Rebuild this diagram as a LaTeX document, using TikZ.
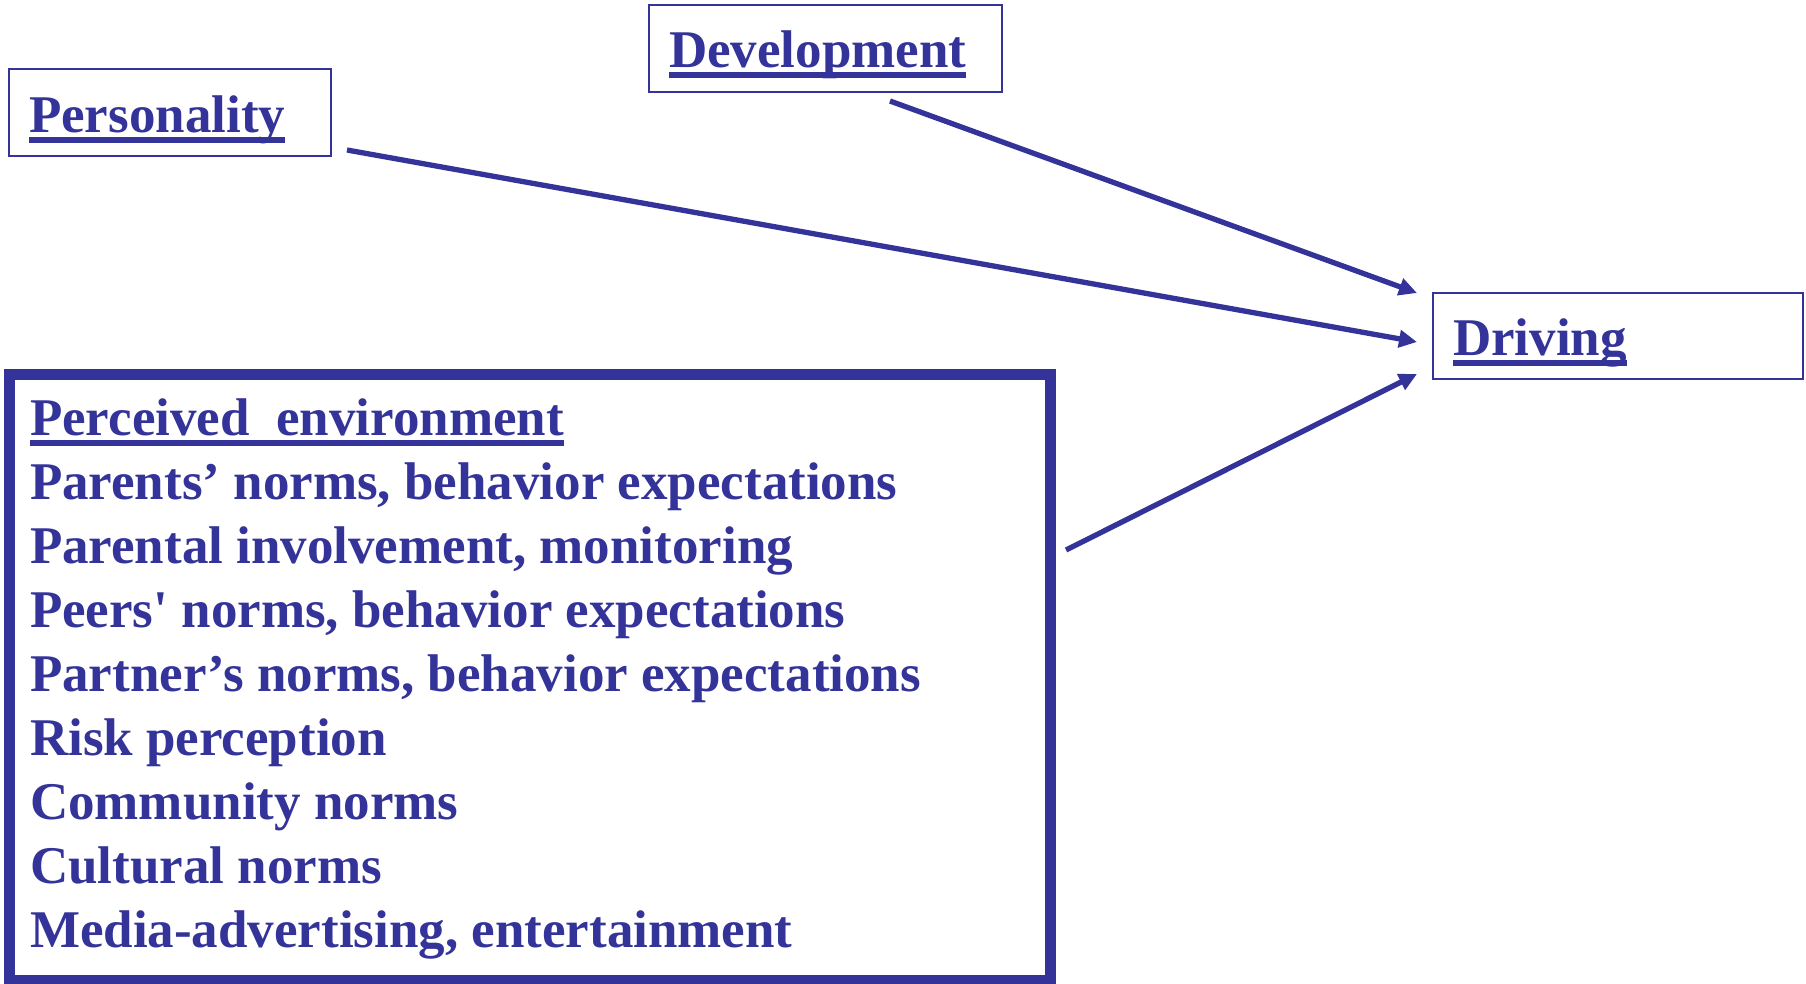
\documentclass[tikz,border=0pt]{standalone}
\usepackage{fontspec}
\setmainfont{Liberation Serif}[Ligatures=TeXOff]
\usetikzlibrary{arrows.meta}
\definecolor{ppblue}{RGB}{51,51,153}
\newsavebox{\ulbx}
\newcommand{\ulx}[1]{\sbox{\ulbx}{#1}\rlap{\rule[-10.5bp]{\wd\ulbx}{6bp}}\usebox{\ulbx}}
\begin{document}
\begin{tikzpicture}[x=1bp,y=-1bp,
  thinbox/.style={draw=ppblue,line width=2.5bp,inner sep=0pt,outer sep=0pt,rectangle},
  bigbox/.style={draw=ppblue,line width=11bp,inner sep=0pt,outer sep=0pt,rectangle},
  lbl/.style={text=ppblue,font=\fontsize{53bp}{64bp}\selectfont\bfseries,inner sep=0pt,outer sep=0pt,anchor=base west},
  arr/.style={draw=ppblue,line width=5.3bp,-{Triangle[length=18bp,width=17bp]}}]
\useasboundingbox (0,0) rectangle (1806,983);
% boxes
\node[thinbox,minimum width=322bp,minimum height=87bp] (pbox) at (170,112.5) {};
\node[thinbox,minimum width=353bp,minimum height=87bp] (dbox) at (825.5,48.5) {};
\node[thinbox,minimum width=370bp,minimum height=86bp] (vbox) at (1618,336) {};
\node[bigbox,minimum width=1040bp,minimum height=606bp] (env) at (530,677) {};
% titles
\node[lbl] (ptxt) at (29,132) {\ulx{Personality}};
\node[lbl] (dtxt) at (669,67) {\ulx{Development}};
\node[lbl] (vtxt) at (1453,355) {\ulx{Driving}};
\node[lbl] (l1) at (30,435) {\ulx{Perceived\ \ environment}};
\node[lbl] (l2) at (30,499) {Parents’ norms, behavior expectations};
\node[lbl] (l3) at (30,563) {Parental involvement, monitoring};
\node[lbl] (l4) at (30,627) {Peers' norms, behavior expectations};
\node[lbl] (l5) at (30,691) {Partner’s norms, behavior expectations};
\node[lbl] (l6) at (30,755) {Risk perception};
\node[lbl] (l7) at (30,819) {Community norms};
\node[lbl] (l8) at (30,883) {Cultural norms};
\node[lbl] (l9) at (30,947) {Media-advertising, entertainment};
% connector ends
\coordinate (dout) at ([shift={(64.5,9)}]dbox.south);
\coordinate (pout) at ([shift={(16,37.5)}]pbox.east);
\coordinate (eout) at ([shift={(16,-127)}]env.east);
\coordinate (din) at ([shift={(-16,-43)}]vbox.west);
\coordinate (pin) at ([shift={(-16,6)}]vbox.west);
\coordinate (ein) at ([shift={(-16,38)}]vbox.west);
\draw[arr] (dout) -- (din);
\draw[arr] (pout) -- (pin);
\draw[arr] (eout) -- (ein);
\end{tikzpicture}
\end{document}
